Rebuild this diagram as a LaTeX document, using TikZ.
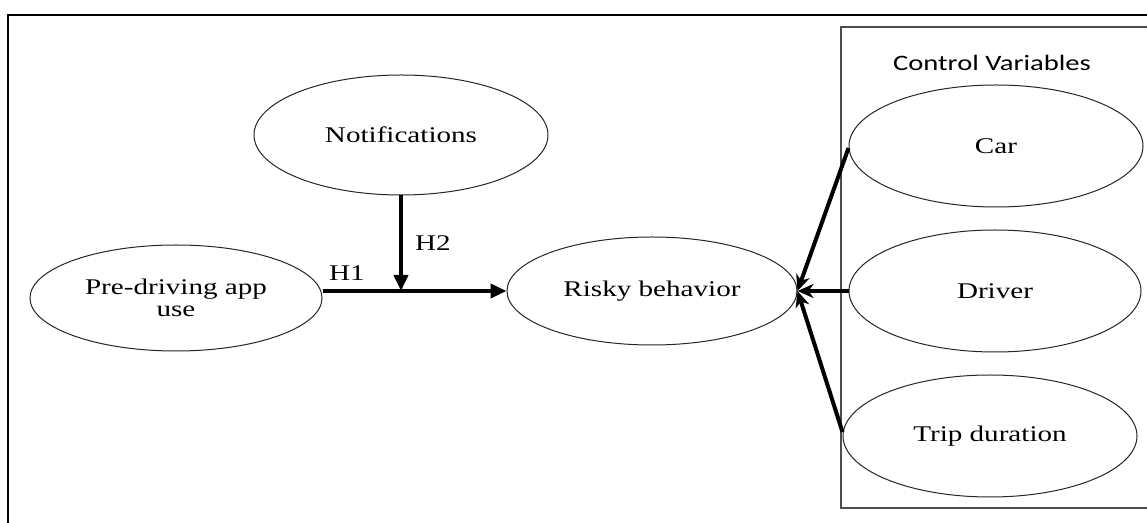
\documentclass[tikz,border=0pt]{standalone}
\usepackage{fontspec}
\setmainfont{Liberation Serif}[FakeStretch=1.3]
\newfontfamily\labelsans{Carlito}[FakeStretch=1.3]
\usetikzlibrary{shapes.geometric,arrows.meta}
\begin{document}
\begin{tikzpicture}[x=0.5pt,y=-0.5pt,
  construct/.style={draw=black!85,line width=0.5pt,ellipse,inner sep=0pt,
    align=center,font=\fontsize{11.2}{11.2}\selectfont},
  path/.style={line width=1.9pt,-{Triangle[length=8pt,width=7pt]}},
  ctrl/.style={line width=2pt,-{Stealth[length=8pt,width=7pt,inset=2.5pt]}},
  hyp/.style={font=\fontsize{11.2}{13}\selectfont}]
\useasboundingbox (0,0) rectangle (1147,523);
\fill[white] (0,0) rectangle (1147,523);
% outer frame
\draw[line width=0.8pt] (8,15) rectangle (1170,545);
% box of control variables
\draw[black!70,line width=0.7pt] (841,27) rectangle (1170,508);
\node[font=\labelsans\fontsize{11}{13}\selectfont] (ctitle) at (992,63) {Control Variables};
% constructs (sizes in pt: half the pixel extent)
\node[construct,minimum width=147pt,minimum height=60pt] (notif) at (401,135) {Notifications};
\node[construct,minimum width=146pt,minimum height=53pt] (pre) at (176,298) {Pre-driving app\\use};
\node[construct,minimum width=145pt,minimum height=54pt] (risky) at (652,291) {Risky behavior};
\node[construct,minimum width=147pt,minimum height=61pt] (car) at (996,146) {Car};
\node[construct,minimum width=146pt,minimum height=61pt] (driver) at (995,291) {Driver};
\node[construct,minimum width=147pt,minimum height=61pt] (trip) at (990,436) {Trip duration};
% hypotheses
\draw[path] (pre.east |- risky.west) -- (risky.west);
\coordinate (join) at (notif.south |- risky.west);
\draw[path] (notif.south) -- (join);
\node[hyp] (h1) at (347,273) {H1};
\node[hyp] (h2) at (433,243) {H2};
% control paths
\draw[ctrl] (car.west) ++(0,2) -- (risky.east);
\draw[ctrl] (driver.west) -- (risky.east);
\draw[ctrl] (trip.west) ++(0,-4) -- (risky.east);
\end{tikzpicture}
\end{document}
